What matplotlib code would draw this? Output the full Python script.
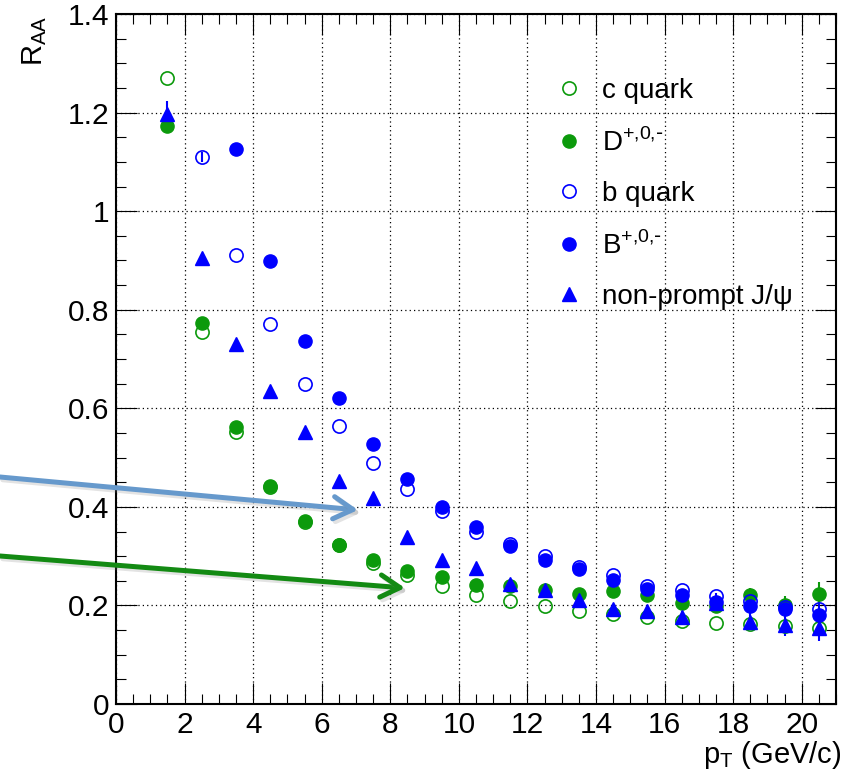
import matplotlib
matplotlib.use("Agg")
import matplotlib.pyplot as plt
import matplotlib.patheffects as pe
from matplotlib.ticker import MultipleLocator

plt.rcParams["font.family"] = ["Liberation Sans", "DejaVu Sans"]

# ---- data ----
pt = [1.5, 2.5, 3.5, 4.5, 5.5, 6.5, 7.5, 8.5, 9.5, 10.5,
      11.5, 12.5, 13.5, 14.5, 15.5, 16.5, 17.5, 18.5, 19.5, 20.5]

c_quark = [1.271, 0.754, 0.552, 0.440, 0.370, 0.322, 0.286, 0.261, 0.239, 0.222,
           0.210, 0.199, 0.189, 0.182, 0.176, 0.169, 0.165, 0.162, 0.158, 0.155]
c_quark_err = [0.0] * 20

d_meson = [1.172, 0.773, 0.562, 0.442, 0.372, 0.323, 0.293, 0.270, 0.257, 0.242,
           0.239, 0.232, 0.224, 0.229, 0.222, 0.204, 0.198, 0.221, 0.200, 0.224]
d_meson_err = [0.0, 0.0, 0.0, 0.0, 0.0, 0.0, 0.0, 0.0, 0.0, 0.0,
               0.0, 0.0, 0.0, 0.0, 0.0, 0.0, 0.0, 0.015, 0.020, 0.024]

pt_b = pt[1:]
b_quark = [1.109, 0.912, 0.771, 0.650, 0.564, 0.490, 0.436, 0.391, 0.350,
           0.325, 0.300, 0.278, 0.262, 0.240, 0.231, 0.219, 0.208, 0.197, 0.193]
b_quark_err = [0.010, 0.0, 0.0, 0.0, 0.0, 0.0, 0.0, 0.0, 0.0,
               0.0, 0.0, 0.0, 0.0, 0.0, 0.0, 0.0, 0.0, 0.0, 0.010]

pt_B = pt[2:]
b_meson = [1.127, 0.898, 0.736, 0.621, 0.527, 0.456, 0.399, 0.360,
           0.321, 0.293, 0.273, 0.251, 0.233, 0.221, 0.206, 0.199, 0.192, 0.180]
b_meson_err = [0.0] * 18

jpsi = [1.198, 0.904, 0.731, 0.635, 0.552, 0.4525, 0.4175, 0.338, 0.293, 0.276,
        0.244, 0.231, 0.211, 0.192, 0.188, 0.176, 0.205, 0.167, 0.160, 0.154]
jpsi_err = [0.025, 0.0, 0.0, 0.0, 0.0, 0.0, 0.0, 0.0, 0.0, 0.0,
            0.0, 0.0, 0.0, 0.0, 0.0, 0.012, 0.020, 0.017, 0.022, 0.026]

labels = ["c quark", r"D$^{\mathregular{+{,}0{,}\text{-}}}$", "b quark",
          r"B$^{\mathregular{+{,}0{,}\text{-}}}$", "non-prompt J/\u03c8"]

GREEN = "#0c9a0c"
BLUE = "#0000ff"
MS = 9.5

fig = plt.figure(figsize=(8.46, 7.78), dpi=100)
ax = fig.add_axes([116 / 846, 1 - 704 / 778, 720 / 846, 690 / 778])

common = dict(linestyle="none", capsize=0, elinewidth=1.5, markersize=MS)
series = [
    ax.errorbar(pt, c_quark, yerr=c_quark_err, marker="o", color=GREEN,
                mfc="none", mec=GREEN, mew=1.2, **common),
    ax.errorbar(pt, d_meson, yerr=d_meson_err, marker="o", color=GREEN,
                mec=GREEN, **common),
    ax.errorbar(pt_b, b_quark, yerr=b_quark_err, marker="o", color=BLUE,
                mfc="none", mec=BLUE, mew=1.2, **common),
    ax.errorbar(pt_B, b_meson, yerr=b_meson_err, marker="o", color=BLUE,
                mec=BLUE, **common),
    ax.errorbar(pt, jpsi, yerr=jpsi_err, marker="^", color=BLUE,
                mec=BLUE, **common),
]

ax.set_xlim(0, 21)
ax.set_ylim(0, 1.4)
ax.xaxis.set_major_locator(MultipleLocator(2))
ax.xaxis.set_minor_locator(MultipleLocator(0.5))
ax.yaxis.set_major_locator(MultipleLocator(0.2))
ax.yaxis.set_minor_locator(MultipleLocator(0.05))
ax.xaxis.set_major_formatter(plt.FuncFormatter(lambda v, p: f"{v:g}"))
ax.yaxis.set_major_formatter(plt.FuncFormatter(lambda v, p: f"{v:g}"))

ax.tick_params(which="both", direction="in", top=True, right=True, width=0.8)
ax.tick_params(which="major", length=15, labelsize=21.5, pad=5)
ax.tick_params(which="minor", length=7.5)
for sp in ax.spines.values():
    sp.set_linewidth(1.5)
ax.grid(True, which="major", color="black", linestyle=(0, (1, 2.5)), linewidth=0.9)

ax.legend(handles=[s[0] for s in series], labels=labels,
          loc="upper left", bbox_to_anchor=(555 / 846, 1 - 78 / 778),
          bbox_transform=fig.transFigure, frameon=False, fontsize=20,
          handlelength=1.0, handletextpad=0.68, labelspacing=0.87,
          borderpad=0, borderaxespad=0, numpoints=1)

fig.text(20 / 846, 1 - 16 / 778, r"$\mathregular{R_{AA}}$", rotation=90,
         ha="left", va="top", fontsize=21)
fig.text(841 / 846, 1 - 763 / 778, r"$\mathregular{p_{T}}$ (GeV/c)",
         ha="right", va="baseline", fontsize=21)

# annotation arrows pointing into the plot
shadow = [pe.SimpleLineShadow(offset=(2, -2), shadow_color="gray", alpha=0.22), pe.Normal()]
for start, end, col in [((0.0, 1 - 477 / 778), (358 / 846, 1 - 510 / 778), "#6699cc"),
                        ((0.0, 1 - 556 / 778), (405 / 846, 1 - 588 / 778), "#138a13")]:
    ax.annotate("", xy=end, xycoords="figure fraction", xytext=start,
                textcoords="figure fraction", annotation_clip=False,
                arrowprops=dict(arrowstyle="->,head_length=0.7,head_width=0.4",
                                color=col, lw=3.6, mutation_scale=20,
                                shrinkA=0, shrinkB=0, path_effects=shadow))

fig.savefig("out.png", dpi=100)
